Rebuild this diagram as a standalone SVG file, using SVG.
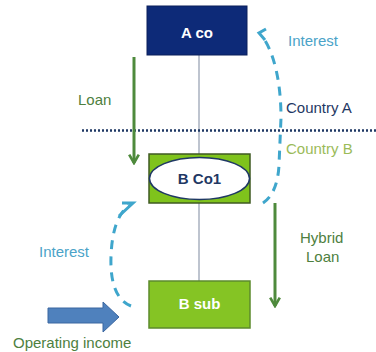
<svg xmlns="http://www.w3.org/2000/svg" width="376" height="352" viewBox="0 0 376 352">
<defs>
<style>
text{font-family:"Liberation Sans",Arial,sans-serif;font-size:15px}
.bold{font-weight:bold}
.int{fill:#4ba3c8}
.grn{fill:#4e8040}
.flow{fill:none;stroke:#4e8a3c;stroke-width:3}
.dash{fill:none;stroke:#3fa6cc;stroke-width:3;stroke-dasharray:9 7}
.link{stroke:#a8b0bf;stroke-width:1.5}
</style>
<marker id="gh" viewBox="0 0 10 10" refX="8" refY="5" markerWidth="4" markerHeight="4" orient="auto" markerUnits="strokeWidth">
<path d="M1,1 L8,5 L1,9" fill="none" stroke="#4e8a3c" stroke-width="2.2"/>
</marker>
</defs>
<rect width="376" height="352" fill="#fff"/>
<g id="connectors">
<line class="link" x1="199" y1="55" x2="199" y2="154"/>
<line class="link" x1="199" y1="203" x2="199" y2="281"/>
<line x1="82" y1="130.5" x2="376" y2="130.5" stroke="#1f3864" stroke-width="2.5" stroke-dasharray="2 2"/>
<line class="flow" x1="134" y1="57" x2="134" y2="163" marker-end="url(#gh)"/>
<line class="flow" x1="275" y1="203" x2="275" y2="306" marker-end="url(#gh)"/>
<path class="dash" d="M263 203 C272 197 278 185 279 165 L281 118 C281 82 274 52 262 36"/>
<path d="M266 29 L259 33 L265 40" fill="none" stroke="#3fa6cc" stroke-width="3"/>
<path class="dash" d="M131 306 C116 300 110 282 111 256 C112 232 117 215 129 205"/>
<path d="M122 203 L133 203 L119 216" fill="none" stroke="#3fa6cc" stroke-width="3"/>
<path d="M48 308 L103 308 L103 302 L119 317 L103 332 L103 323 L48 323 Z" fill="#4f81bd" stroke="#3a66a0" stroke-width="1"/>
</g>
<g id="a-co">
<rect x="147" y="6" width="100" height="49" fill="#0d2a78" stroke="#0a1f5a" stroke-width="1"/>
<text x="197" y="38" text-anchor="middle" class="bold" fill="#fff">A co</text>
</g>
<g id="b-co1">
<rect x="149" y="154" width="101" height="49" fill="#7fc31c" stroke="#3f5a22" stroke-width="1.5"/>
<ellipse cx="199.5" cy="178.5" rx="50" ry="21" fill="#fff" stroke="#1f3864" stroke-width="1.5"/>
<text x="199.5" y="184" text-anchor="middle" class="bold" fill="#1f3864">B Co1</text>
</g>
<g id="b-sub">
<rect x="149" y="281" width="101" height="47" fill="#85c424" stroke="#5c8a2c" stroke-width="1.5"/>
<text x="199.5" y="309" text-anchor="middle" class="bold" fill="#fff">B sub</text>
</g>
<g id="labels">
<text x="288" y="46" class="int">Interest</text>
<text x="78" y="105" class="grn">Loan</text>
<text x="286" y="113" fill="#1f3864">Country A</text>
<text x="286" y="154" fill="#9bbb59">Country B</text>
<text x="39" y="257" class="int">Interest</text>
<text x="300" y="243" class="grn">Hybrid</text>
<text x="306" y="262" class="grn">Loan</text>
<text x="13" y="348" class="grn">Operating income</text>
</g>
</svg>
